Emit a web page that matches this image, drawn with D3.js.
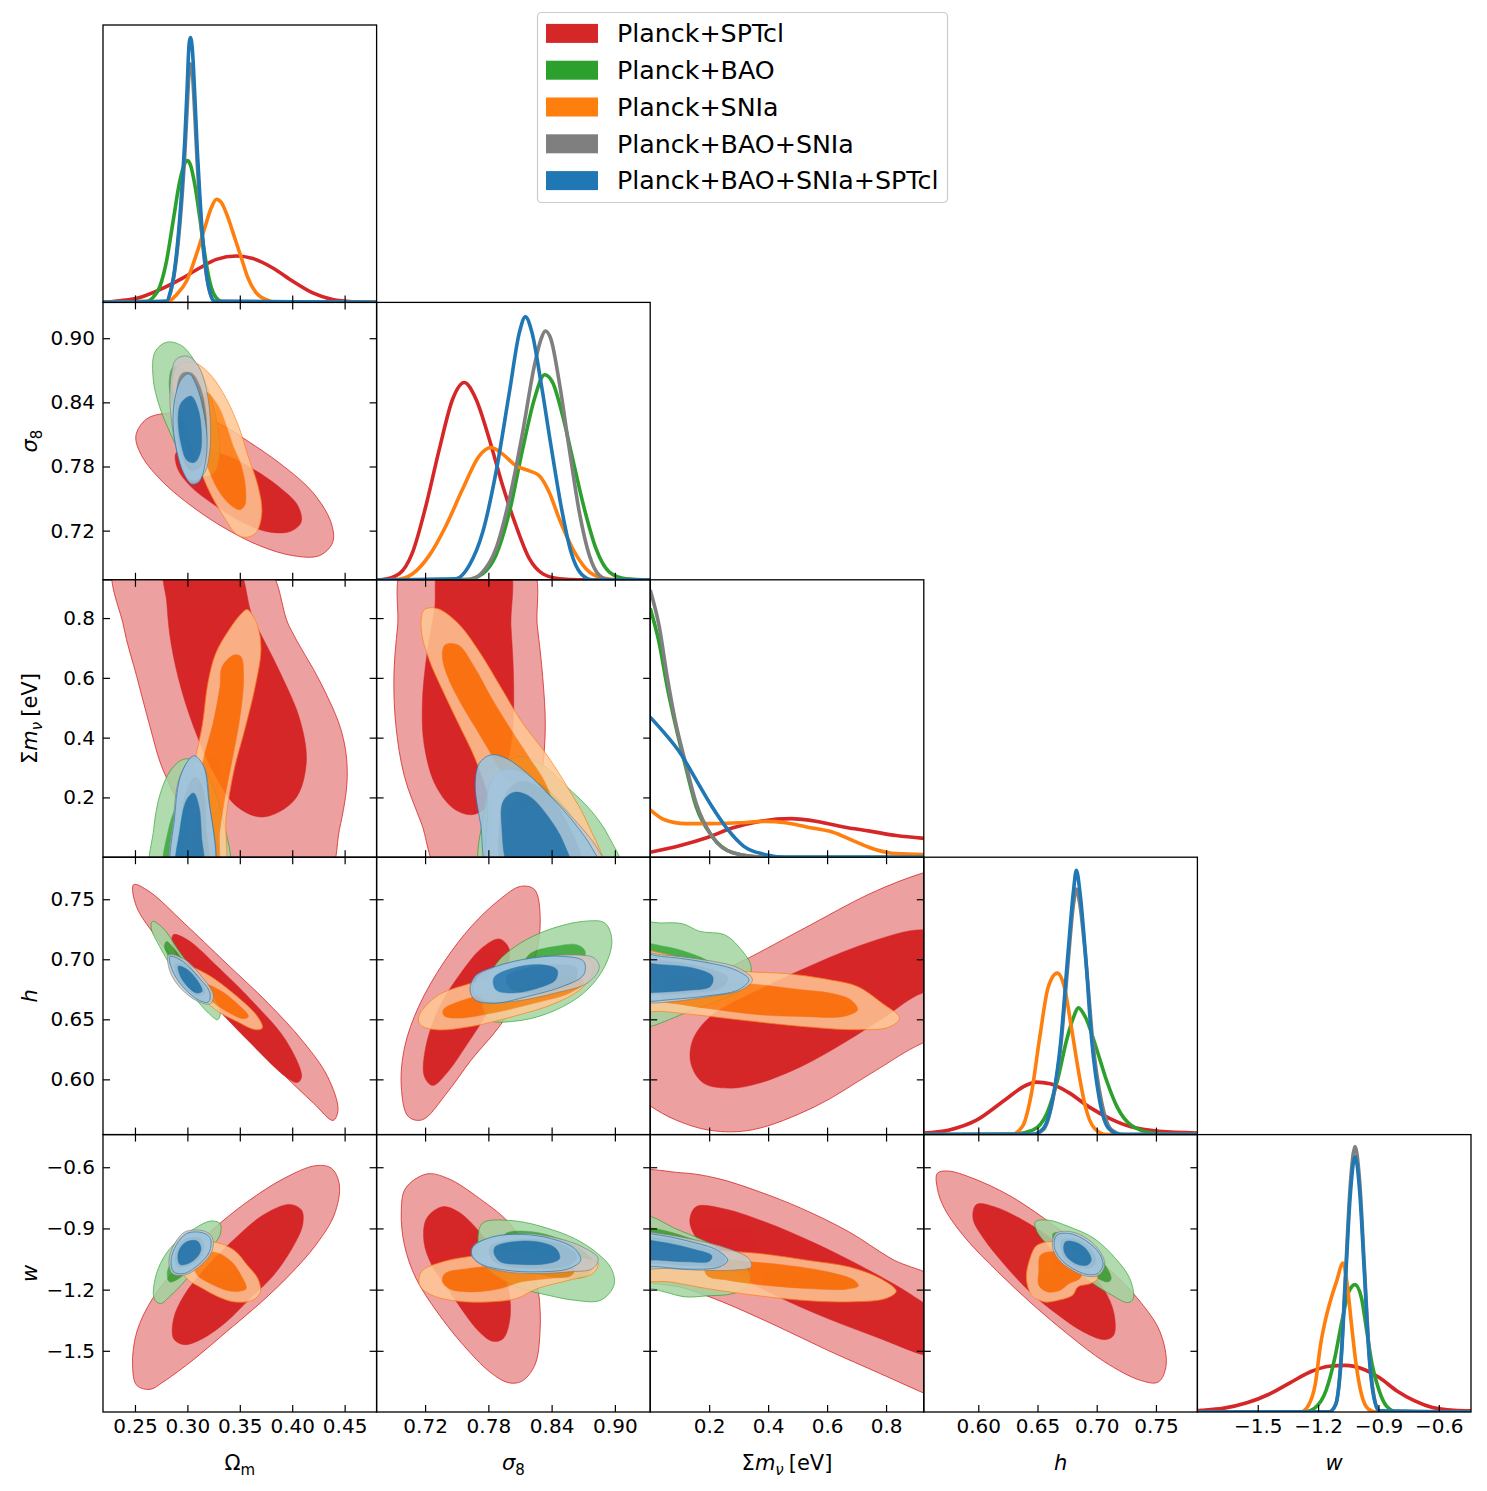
<!DOCTYPE html>
<html>
<head>
<meta charset="utf-8">
<script src="https://cdn.jsdelivr.net/npm/d3@7"></script>
<style>
  body { margin: 0; background: #fff; }
  text { font-family: "DejaVu Sans", sans-serif; fill: #000; }
</style>
</head>
<body>
<svg id="chart" width="1487" height="1491"></svg>
<script>
// series, in drawing order
const seriesNames = ['Planck+SPTcl', 'Planck+BAO', 'Planck+SNIa', 'Planck+BAO+SNIa', 'Planck+BAO+SNIa+SPTcl'];
const seriesColors = ['#d62728', '#2ca02c', '#ff7f0e', '#7f7f7f', '#1f77b4'];

// parameters (rows / columns of the triangle)
const params = ['Om', 's8', 'mnu', 'h', 'w'];
const domains = {
  Om: [0.2195, 0.4805],
  s8: [0.674, 0.9335],
  mnu: [0, 0.928],
  h: [0.554, 0.785],
  w: [-1.80, -0.44]
};
const tickValues = {
  Om: [0.25, 0.30, 0.35, 0.40, 0.45],
  s8: [0.72, 0.78, 0.84, 0.90],
  mnu: [0.2, 0.4, 0.6, 0.8],
  h: [0.60, 0.65, 0.70, 0.75],
  w: [-1.5, -1.2, -0.9, -0.6]
};
const tickDecimals = { Om: 2, s8: 2, mnu: 1, h: 2, w: 1 };

// 1D marginals: [value, density (fraction of panel height)] per series
const d_Om = [
  [[0.2195,0],[0.2357,0.006],[0.2547,0.018],[0.2738,0.046],[0.2928,0.082],[0.3118,0.124],[0.3277,0.155],[0.3467,0.167],[0.3625,0.158],[0.3815,0.124],[0.4006,0.076],[0.4196,0.034],[0.4386,0.010],[0.4576,0.002],[0.4805,0]],
  [[0.2195,0],[0.2611,0.004],[0.2674,0.018],[0.2738,0.058],[0.2801,0.149],[0.2864,0.293],[0.2928,0.438],[0.2975,0.501],[0.2998,0.511],[0.3029,0.496],[0.3070,0.426],[0.3118,0.306],[0.3166,0.173],[0.3213,0.076],[0.3277,0.016],[0.3356,0],[0.4805,0]],
  [[0.2195,0],[0.2817,0.004],[0.2896,0.028],[0.2991,0.076],[0.3086,0.173],[0.3166,0.269],[0.3229,0.342],[0.3277,0.372],[0.3324,0.360],[0.3387,0.306],[0.3451,0.233],[0.3514,0.161],[0.3578,0.088],[0.3657,0.034],[0.3752,0.010],[0.3847,0],[0.4805,0]],
  [[0.2195,0],[0.2801,0.004],[0.2839,0.036],[0.2871,0.092],[0.2902,0.180],[0.2928,0.280],[0.2953,0.400],[0.2975,0.530],[0.2998,0.700],[0.3017,0.835],[0.3029,0.860],[0.3048,0.822],[0.3070,0.680],[0.3093,0.505],[0.3118,0.355],[0.3143,0.225],[0.3175,0.115],[0.3213,0.038],[0.3261,0.004],[0.4805,0]],
  [[0.2195,0],[0.2801,0.004],[0.2839,0.040],[0.2871,0.100],[0.2902,0.197],[0.2928,0.306],[0.2953,0.438],[0.2975,0.583],[0.2998,0.777],[0.3017,0.934],[0.3029,0.955],[0.3048,0.909],[0.3070,0.752],[0.3093,0.559],[0.3118,0.390],[0.3143,0.245],[0.3175,0.124],[0.3213,0.040],[0.3261,0.004],[0.4805,0]]
];
const d_s8 = [
  [[0.674,0],[0.6797,0.001],[0.6955,0.022],[0.7082,0.100],[0.7208,0.267],[0.7335,0.471],[0.7461,0.651],[0.7572,0.711],[0.7683,0.651],[0.7809,0.507],[0.7936,0.339],[0.8062,0.195],[0.8189,0.076],[0.8315,0.022],[0.8473,0.004],[0.8663,0],[0.9335,0]],
  [[0.674,0],[0.7588,0.001],[0.7746,0.022],[0.7872,0.088],[0.7999,0.243],[0.8125,0.471],[0.8236,0.651],[0.8334,0.739],[0.8410,0.711],[0.8505,0.591],[0.8600,0.435],[0.8711,0.255],[0.8821,0.112],[0.8948,0.028],[0.9106,0.004],[0.9335,0]],
  [[0.674,0],[0.6923,0.001],[0.7082,0.022],[0.7240,0.088],[0.7398,0.195],[0.7556,0.327],[0.7714,0.447],[0.7825,0.477],[0.7936,0.453],[0.8062,0.411],[0.8189,0.393],[0.8283,0.375],[0.8378,0.315],[0.8473,0.219],[0.8600,0.112],[0.8726,0.040],[0.8884,0.006],[0.9043,0],[0.9335,0]],
  [[0.674,0],[0.7619,0.001],[0.7746,0.028],[0.7872,0.112],[0.7999,0.291],[0.8125,0.531],[0.8236,0.771],[0.8299,0.867],[0.8340,0.897],[0.8394,0.867],[0.8473,0.711],[0.8568,0.471],[0.8663,0.243],[0.8758,0.088],[0.8853,0.016],[0.8948,0],[0.9335,0]],
  [[0.674,0],[0.7493,0.004],[0.7619,0.052],[0.7746,0.171],[0.7872,0.387],[0.7999,0.675],[0.8094,0.891],[0.8151,0.948],[0.8214,0.891],[0.8299,0.711],[0.8394,0.483],[0.8489,0.267],[0.8584,0.100],[0.8679,0.022],[0.8790,0],[0.9335,0]]
];
const d_mnu = [
  [[0,0.018],[0.1021,0.042],[0.1915,0.070],[0.2808,0.106],[0.3701,0.129],[0.4773,0.139],[0.5666,0.129],[0.6559,0.109],[0.7452,0.094],[0.8345,0.078],[0.928,0.068]],
  [[0,0.897],[0.0307,0.771],[0.0575,0.615],[0.0843,0.483],[0.1200,0.327],[0.1557,0.183],[0.2093,0.076],[0.2808,0.016],[0.3880,0],[0.928,0]],
  [[0,0.171],[0.0486,0.135],[0.1200,0.121],[0.2093,0.121],[0.2987,0.124],[0.3880,0.129],[0.4594,0.124],[0.5309,0.109],[0.6202,0.090],[0.6916,0.058],[0.7631,0.028],[0.8345,0.013],[0.928,0.010]],
  [[0,0.963],[0.0307,0.831],[0.0575,0.651],[0.0843,0.495],[0.1200,0.339],[0.1557,0.195],[0.2093,0.076],[0.2808,0.016],[0.3880,0],[0.928,0]],
  [[0,0.505],[0.0486,0.447],[0.1021,0.375],[0.1557,0.279],[0.2093,0.183],[0.2629,0.100],[0.3165,0.040],[0.3880,0.010],[0.4594,0],[0.928,0]]
];
const d_h = [
  [[0.554,0.006],[0.5747,0.016],[0.5985,0.052],[0.6222,0.124],[0.6400,0.177],[0.6489,0.189],[0.6608,0.183],[0.6757,0.153],[0.6934,0.100],[0.7112,0.058],[0.7290,0.028],[0.7528,0.012],[0.785,0.006]],
  [[0.554,0],[0.6282,0.001],[0.6460,0.016],[0.6579,0.076],[0.6668,0.195],[0.6745,0.339],[0.6804,0.423],[0.6845,0.457],[0.6905,0.423],[0.6994,0.315],[0.7083,0.195],[0.7172,0.100],[0.7290,0.034],[0.7468,0.006],[0.7706,0],[0.785,0]],
  [[0.554,0],[0.6282,0.001],[0.6371,0.028],[0.6448,0.147],[0.6519,0.351],[0.6590,0.531],[0.6667,0.582],[0.6727,0.531],[0.6786,0.387],[0.6845,0.231],[0.6905,0.100],[0.6982,0.022],[0.7083,0],[0.785,0]],
  [[0.554,0],[0.6460,0.001],[0.6549,0.018],[0.6626,0.118],[0.6697,0.321],[0.6757,0.615],[0.6804,0.831],[0.6828,0.885],[0.6857,0.831],[0.6911,0.615],[0.6970,0.321],[0.7041,0.118],[0.7124,0.018],[0.7231,0],[0.785,0]],
  [[0.554,0],[0.6460,0.001],[0.6549,0.022],[0.6626,0.124],[0.6697,0.339],[0.6757,0.651],[0.6804,0.879],[0.6828,0.953],[0.6857,0.879],[0.6905,0.651],[0.6958,0.339],[0.7024,0.124],[0.7101,0.022],[0.7201,0],[0.785,0]]
];
const d_w = [
  [[-1.80,0.005],[-1.7795,0.006],[-1.6735,0.013],[-1.5498,0.034],[-1.4439,0.064],[-1.3378,0.106],[-1.2318,0.147],[-1.1435,0.165],[-1.0640,0.168],[-0.9845,0.157],[-0.8962,0.124],[-0.8079,0.076],[-0.7196,0.040],[-0.6313,0.016],[-0.5253,0.006],[-0.44,0.004]],
  [[-1.80,0],[-1.2672,0.001],[-1.2142,0.016],[-1.1612,0.076],[-1.1170,0.195],[-1.0817,0.327],[-1.0464,0.435],[-1.0164,0.459],[-0.9845,0.411],[-0.9580,0.291],[-0.9315,0.171],[-0.8962,0.076],[-0.8609,0.022],[-0.8079,0],[-0.44,0]],
  [[-1.80,0],[-1.2849,0.001],[-1.2496,0.022],[-1.2142,0.100],[-1.1877,0.243],[-1.1612,0.339],[-1.1347,0.411],[-1.1082,0.471],[-1.0764,0.537],[-1.0552,0.459],[-1.0340,0.315],[-1.0110,0.171],[-0.9845,0.064],[-0.9492,0.010],[-0.9139,0],[-0.44,0]],
  [[-1.80,0],[-1.1435,0.001],[-1.1117,0.030],[-1.0870,0.183],[-1.0640,0.495],[-1.0411,0.807],[-1.0164,0.957],[-0.9934,0.831],[-0.9704,0.531],[-0.9457,0.207],[-0.9227,0.058],[-0.8962,0.004],[-0.44,0]],
  [[-1.80,0],[-1.1435,0.001],[-1.1117,0.028],[-1.0870,0.171],[-1.0640,0.471],[-1.0411,0.771],[-1.0164,0.921],[-0.9934,0.795],[-0.9704,0.507],[-0.9457,0.195],[-0.9227,0.052],[-0.8962,0.004],[-0.44,0]]
];

// 2D contours: per series [outer (95%), inner (68%)], points as [x param, y param]
const c_s8_Om = [
  [[[0.2509,0.8089],[0.2611,0.8245],[0.2801,0.8298],[0.3055,0.8282],[0.3308,0.8198],[0.3594,0.8026],[0.3911,0.7808],[0.4196,0.7558],[0.4370,0.7278],[0.4386,0.7090],[0.4259,0.6966],[0.4006,0.6966],[0.3689,0.7059],[0.3371,0.7215],[0.3055,0.7418],[0.2769,0.7652],[0.2563,0.7902]],
   [[0.2896,0.7933],[0.3118,0.7964],[0.3372,0.7902],[0.3625,0.7777],[0.3879,0.7605],[0.4053,0.7434],[0.4085,0.7278],[0.3974,0.7190],[0.3752,0.7193],[0.3498,0.7293],[0.3245,0.7449],[0.3023,0.7621],[0.2902,0.7792]]],
  [[[0.2690,0.8869],[0.2801,0.8962],[0.2944,0.8931],[0.3086,0.8760],[0.3197,0.8526],[0.3283,0.8214],[0.3308,0.7933],[0.3261,0.7746],[0.3166,0.7708],[0.3055,0.7761],[0.2944,0.7902],[0.2833,0.8120],[0.2731,0.8370],[0.2674,0.8619]],
   [[0.2864,0.8728],[0.2991,0.8697],[0.3118,0.8526],[0.3197,0.8245],[0.3213,0.7995],[0.3150,0.7870],[0.3055,0.7902],[0.2960,0.8058],[0.2880,0.8307],[0.2826,0.8557]]],
  [[[0.2912,0.8744],[0.3055,0.8775],[0.3213,0.8666],[0.3372,0.8432],[0.3498,0.8151],[0.3578,0.7902],[0.3673,0.7621],[0.3711,0.7371],[0.3657,0.7184],[0.3562,0.7137],[0.3467,0.7168],[0.3340,0.7340],[0.3213,0.7558],[0.3118,0.7777],[0.3023,0.8026],[0.2928,0.8307],[0.2858,0.8557]],
   [[0.3181,0.8494],[0.3292,0.8370],[0.3372,0.8182],[0.3435,0.7995],[0.3514,0.7808],[0.3555,0.7590],[0.3546,0.7434],[0.3498,0.7396],[0.3419,0.7434],[0.3308,0.7558],[0.3213,0.7746],[0.3150,0.7933],[0.3118,0.8182],[0.3134,0.8432]]],
  [[[0.2896,0.8806],[0.3007,0.8831],[0.3102,0.8744],[0.3181,0.8526],[0.3219,0.8214],[0.3213,0.7933],[0.3166,0.7746],[0.3086,0.7668],[0.3007,0.7683],[0.2928,0.7839],[0.2864,0.8120],[0.2833,0.8432],[0.2849,0.8682]],
   [[0.2944,0.8666],[0.3039,0.8675],[0.3118,0.8557],[0.3175,0.8307],[0.3181,0.8026],[0.3134,0.7808],[0.3039,0.7761],[0.2960,0.7870],[0.2902,0.8120],[0.2890,0.8432]]],
  [[[0.2944,0.8619],[0.3017,0.8666],[0.3086,0.8557],[0.3150,0.8338],[0.3188,0.8058],[0.3166,0.7808],[0.3112,0.7658],[0.3039,0.7636],[0.2960,0.7746],[0.2902,0.7933],[0.2864,0.8182],[0.2880,0.8432]],
   [[0.2975,0.8432],[0.3039,0.8457],[0.3102,0.8338],[0.3134,0.8120],[0.3124,0.7933],[0.3071,0.7839],[0.2998,0.7855],[0.2944,0.7995],[0.2912,0.8214],[0.2928,0.8370]]]
];
const c_mnu_Om = [
  [[[0.2317,0.9825],[0.3722,0.9825],[0.3973,0.7711],[0.4274,0.5818],[0.4475,0.4149],[0.4525,0.2702],[0.4450,0.0921],[0.4325,-0.0637],[0.3346,-0.0637],[0.3195,0.0254],[0.3020,0.1144],[0.2869,0.2146],[0.2743,0.3147],[0.2643,0.4372],[0.2517,0.6041],[0.2392,0.7711]],
   [[0.2793,0.9825],[0.3446,0.9825],[0.3622,0.8044],[0.3873,0.6264],[0.4074,0.4594],[0.4134,0.3147],[0.4023,0.1923],[0.3722,0.1344],[0.3471,0.1700],[0.3270,0.2702],[0.3095,0.4038],[0.2944,0.5596],[0.2844,0.7154],[0.2804,0.8490]]],
  [[[0.2668,-0.0637],[0.2678,0.0921],[0.2743,0.2146],[0.2844,0.2925],[0.2969,0.3281],[0.3120,0.3147],[0.3245,0.2368],[0.3331,0.1367],[0.3381,-0.0637]],
   [[0.2793,-0.0637],[0.2819,0.0921],[0.2919,0.1812],[0.3020,0.2034],[0.3145,0.1589],[0.3195,0.0476],[0.3220,-0.0637]]],
  [[[0.3572,0.8289],[0.3672,0.7711],[0.3702,0.6931],[0.3647,0.5707],[0.3547,0.4260],[0.3446,0.2925],[0.3371,0.1367],[0.3331,-0.0637],[0.2994,-0.0637],[0.3020,0.1589],[0.3070,0.3147],[0.3145,0.4483],[0.3195,0.5818],[0.3270,0.6820],[0.3396,0.7599],[0.3511,0.8133]],
   [[0.3446,0.6764],[0.3511,0.6709],[0.3536,0.6041],[0.3511,0.4928],[0.3446,0.3592],[0.3371,0.2257],[0.3311,0.0921],[0.3270,-0.0637],[0.3070,-0.0637],[0.3095,0.1589],[0.3145,0.3147],[0.3245,0.4483],[0.3311,0.5707],[0.3331,0.6375]]],
  [[[0.2859,-0.0637],[0.2869,0.1367],[0.2929,0.2702],[0.3045,0.3314],[0.3160,0.2980],[0.3210,0.1812],[0.3240,-0.0637]],
   [[0.2919,-0.0637],[0.2944,0.1367],[0.3009,0.2368],[0.3080,0.2680],[0.3150,0.2257],[0.3180,0.0921],[0.3190,-0.0637]]],
  [[[0.2869,-0.0637],[0.2879,0.1367],[0.2944,0.2813],[0.3060,0.3392],[0.3150,0.3092],[0.3200,0.2034],[0.3230,-0.0637]],
   [[0.2904,-0.0637],[0.2929,0.0921],[0.2994,0.1923],[0.3060,0.2146],[0.3110,0.1700],[0.3135,0.0699],[0.3145,-0.0637]]]
];
const c_mnu_s8 = [
  [[[0.7014,0.9825],[0.8190,0.9825],[0.8265,0.7711],[0.8315,0.6041],[0.8340,0.4372],[0.8305,0.2702],[0.8215,0.1144],[0.8115,-0.0637],[0.7364,-0.0637],[0.7164,0.1144],[0.7004,0.2702],[0.6924,0.4372],[0.6904,0.6041],[0.6939,0.7711]],
   [[0.7354,0.9825],[0.7975,0.9825],[0.8015,0.7711],[0.8040,0.5818],[0.8025,0.4038],[0.7940,0.2702],[0.7790,0.1700],[0.7640,0.1422],[0.7464,0.1645],[0.7289,0.2479],[0.7189,0.3815],[0.7174,0.5151],[0.7214,0.6709],[0.7289,0.8267]]],
  [[[0.7755,-0.0637],[0.7765,0.1589],[0.7840,0.2702],[0.7965,0.3203],[0.8115,0.3370],[0.8315,0.3092],[0.8541,0.2368],[0.8766,0.1589],[0.8941,0.0699],[0.9066,-0.0637]],
   [[0.7965,-0.0637],[0.7990,0.1367],[0.8115,0.2257],[0.8265,0.2479],[0.8465,0.1923],[0.8665,0.0921],[0.8816,-0.0637]]],
  [[[0.7189,0.8267],[0.7314,0.8323],[0.7514,0.7822],[0.7715,0.6876],[0.7915,0.5707],[0.8115,0.4539],[0.8365,0.3370],[0.8565,0.2257],[0.8740,0.1144],[0.8891,-0.0637],[0.7965,-0.0637],[0.7790,0.2146],[0.7665,0.3370],[0.7514,0.4483],[0.7364,0.5596],[0.7239,0.6598],[0.7164,0.7599]],
   [[0.7389,0.7098],[0.7514,0.7098],[0.7665,0.6375],[0.7840,0.5262],[0.8015,0.4260],[0.8190,0.3314],[0.8340,0.2479],[0.8390,0.1812],[0.8215,0.1700],[0.8015,0.2368],[0.7840,0.3370],[0.7690,0.4260],[0.7539,0.5151],[0.7414,0.6041],[0.7364,0.6709]]],
  [[[0.7840,-0.0637],[0.7790,0.1367],[0.7815,0.2479],[0.7940,0.2925],[0.8115,0.2869],[0.8365,0.2146],[0.8616,0.1255],[0.8841,0.0254],[0.8941,-0.0637]],
   [[0.7965,-0.0637],[0.7915,0.1367],[0.7990,0.2257],[0.8115,0.2535],[0.8315,0.2257],[0.8515,0.1367],[0.8691,-0.0637]]],
  [[[0.7840,-0.0637],[0.7725,0.1144],[0.7675,0.2479],[0.7715,0.3147],[0.7825,0.3425],[0.7965,0.3314],[0.8165,0.2813],[0.8390,0.2034],[0.8616,0.1144],[0.8791,0.0254],[0.8891,-0.0637]],
   [[0.8040,-0.0637],[0.7925,0.1144],[0.7940,0.1867],[0.8040,0.2168],[0.8190,0.2034],[0.8365,0.1367],[0.8515,0.0476],[0.8591,-0.0637]]]
];
const c_h_Om = [
  [[[0.2487,0.7621],[0.2634,0.7566],[0.2968,0.7302],[0.3368,0.6969],[0.3769,0.6635],[0.4103,0.6316],[0.4337,0.6024],[0.4437,0.5747],[0.4390,0.5658],[0.4203,0.5802],[0.3869,0.6080],[0.3469,0.6427],[0.3068,0.6788],[0.2734,0.7149],[0.2513,0.7441]],
   [[0.2867,0.7205],[0.3001,0.7163],[0.3302,0.6927],[0.3636,0.6635],[0.3936,0.6330],[0.4090,0.6024],[0.4050,0.5974],[0.3936,0.6024],[0.3602,0.6302],[0.3268,0.6608],[0.3001,0.6885],[0.2854,0.7135]]],
  [[[0.2667,0.7316],[0.2767,0.7260],[0.2934,0.7052],[0.3101,0.6858],[0.3248,0.6691],[0.3315,0.6552],[0.3288,0.6497],[0.3201,0.6552],[0.3034,0.6719],[0.2867,0.6913],[0.2734,0.7108],[0.2654,0.7260]],
   [[0.2801,0.7149],[0.2867,0.7094],[0.3001,0.6941],[0.3135,0.6774],[0.3181,0.6663],[0.3101,0.6663],[0.2968,0.6802],[0.2834,0.6996],[0.2781,0.7108]]],
  [[[0.3034,0.6927],[0.3168,0.6885],[0.3435,0.6719],[0.3669,0.6524],[0.3716,0.6427],[0.3649,0.6413],[0.3469,0.6483],[0.3268,0.6580],[0.3101,0.6719],[0.3001,0.6844]],
   [[0.3168,0.6788],[0.3302,0.6746],[0.3469,0.6635],[0.3582,0.6524],[0.3536,0.6505],[0.3402,0.6552],[0.3255,0.6635],[0.3155,0.6719]]],
  [[[0.2821,0.7038],[0.2968,0.7002],[0.3135,0.6858],[0.3248,0.6705],[0.3221,0.6630],[0.3101,0.6649],[0.2934,0.6760],[0.2834,0.6899]],
   [[0.2887,0.6963],[0.3001,0.6941],[0.3121,0.6830],[0.3168,0.6724],[0.3101,0.6696],[0.2981,0.6760],[0.2901,0.6858]]],
  [[[0.2834,0.7024],[0.2954,0.6983],[0.3101,0.6858],[0.3215,0.6719],[0.3201,0.6644],[0.3101,0.6663],[0.2954,0.6774],[0.2854,0.6913]],
   [[0.2914,0.6941],[0.3001,0.6913],[0.3101,0.6816],[0.3141,0.6733],[0.3088,0.6719],[0.3001,0.6774],[0.2934,0.6858]]]
];
const c_h_s8 = [
  [[[0.8105,0.7607],[0.8238,0.7580],[0.8292,0.7330],[0.8238,0.6996],[0.8105,0.6719],[0.7905,0.6441],[0.7639,0.6163],[0.7406,0.5886],[0.7173,0.5663],[0.7040,0.5691],[0.6974,0.5941],[0.7007,0.6274],[0.7140,0.6608],[0.7373,0.6969],[0.7639,0.7274],[0.7905,0.7496]],
   [[0.7905,0.7169],[0.7999,0.7080],[0.7939,0.6830],[0.7806,0.6580],[0.7606,0.6302],[0.7406,0.6052],[0.7273,0.5949],[0.7193,0.6024],[0.7207,0.6274],[0.7340,0.6608],[0.7539,0.6885],[0.7739,0.7094]]],
  [[[0.7905,0.6996],[0.8105,0.7135],[0.8371,0.7246],[0.8704,0.7316],[0.8904,0.7302],[0.8971,0.7163],[0.8904,0.6941],[0.8704,0.6719],[0.8371,0.6552],[0.8038,0.6483],[0.7806,0.6497],[0.7739,0.6663],[0.7806,0.6858]],
   [[0.8205,0.7052],[0.8438,0.7108],[0.8638,0.7121],[0.8718,0.7066],[0.8671,0.6941],[0.8505,0.6830],[0.8271,0.6774],[0.8138,0.6830],[0.8138,0.6969]]],
  [[[0.7140,0.6524],[0.7306,0.6691],[0.7639,0.6802],[0.8038,0.6899],[0.8438,0.6996],[0.8704,0.7024],[0.8804,0.6941],[0.8704,0.6774],[0.8438,0.6635],[0.8038,0.6524],[0.7639,0.6441],[0.7306,0.6413],[0.7153,0.6455]],
   [[0.7373,0.6580],[0.7573,0.6663],[0.7972,0.6746],[0.8371,0.6830],[0.8638,0.6858],[0.8704,0.6802],[0.8571,0.6719],[0.8238,0.6635],[0.7839,0.6552],[0.7506,0.6510],[0.7380,0.6530]]],
  [[[0.7706,0.6858],[0.7905,0.6941],[0.8238,0.7010],[0.8571,0.7038],[0.8804,0.7010],[0.8851,0.6927],[0.8738,0.6802],[0.8438,0.6719],[0.8038,0.6649],[0.7772,0.6649],[0.7653,0.6733]],
   [[0.7972,0.6858],[0.8171,0.6927],[0.8471,0.6955],[0.8638,0.6927],[0.8624,0.6830],[0.8438,0.6760],[0.8171,0.6719],[0.8005,0.6760]]],
  [[[0.7672,0.6858],[0.7872,0.6941],[0.8205,0.7010],[0.8505,0.7024],[0.8704,0.6983],[0.8704,0.6871],[0.8505,0.6774],[0.8171,0.6691],[0.7872,0.6635],[0.7672,0.6663],[0.7626,0.6746]],
   [[0.7852,0.6844],[0.8038,0.6927],[0.8305,0.6955],[0.8451,0.6913],[0.8438,0.6830],[0.8271,0.6760],[0.8038,0.6719],[0.7872,0.6746]]]
];
const c_h_mnu = [
  [[[-0.0334,0.6635],[0.2755,0.6941],[0.5131,0.7246],[0.7507,0.7552],[0.9242,0.7718],[1.1071,0.7829],[1.1071,0.6441],[0.9242,0.6302],[0.7507,0.6052],[0.5607,0.5775],[0.3468,0.5580],[0.2043,0.5575],[0.0855,0.5663],[0.0024,0.5775],[-0.0571,0.5886]],
   [[0.1448,0.6330],[0.2043,0.6524],[0.3468,0.6719],[0.5131,0.6913],[0.7032,0.7107],[0.8695,0.7232],[0.9242,0.7246],[1.1071,0.7246],[1.1071,0.6774],[0.9242,0.6719],[0.7983,0.6524],[0.6558,0.6302],[0.5131,0.6108],[0.3706,0.5969],[0.2755,0.5927],[0.1805,0.5969],[0.1377,0.6136]]],
  [[[-0.0571,0.7288],[0.0379,0.7302],[0.1092,0.7296],[0.1686,0.7232],[0.2517,0.7205],[0.2993,0.7107],[0.3420,0.6941],[0.3230,0.6774],[0.2398,0.6663],[0.1329,0.6566],[0.0024,0.6441],[-0.0571,0.6413]],
   [[-0.0571,0.7121],[0.0498,0.7107],[0.1329,0.7052],[0.2043,0.6969],[0.2280,0.6858],[0.1567,0.6788],[0.0379,0.6788],[-0.0571,0.6788]]],
  [[[-0.0571,0.7066],[0.0379,0.7052],[0.1805,0.6955],[0.3230,0.6899],[0.4656,0.6880],[0.6082,0.6830],[0.7032,0.6774],[0.7864,0.6635],[0.8458,0.6510],[0.8101,0.6435],[0.7032,0.6413],[0.5131,0.6441],[0.3468,0.6483],[0.1805,0.6530],[0.0379,0.6566],[-0.0571,0.6580]],
   [[0.0855,0.6844],[0.2280,0.6816],[0.3706,0.6788],[0.5131,0.6746],[0.6082,0.6719],[0.6795,0.6663],[0.7032,0.6580],[0.6558,0.6524],[0.5131,0.6524],[0.3706,0.6538],[0.2280,0.6580],[0.1092,0.6622],[0.0379,0.6663],[0.0498,0.6774]]],
  [[[-0.0571,0.7052],[0.0379,0.7038],[0.1805,0.6996],[0.2993,0.6927],[0.3468,0.6830],[0.3112,0.6746],[0.2043,0.6691],[0.0855,0.6649],[0.0024,0.6635],[-0.0571,0.6635]],
   [[-0.0571,0.6983],[0.0617,0.6983],[0.1924,0.6927],[0.2636,0.6844],[0.2398,0.6760],[0.1329,0.6719],[0.0142,0.6705],[-0.0571,0.6705]]],
  [[[-0.0571,0.7038],[0.0379,0.7024],[0.1686,0.6983],[0.2874,0.6913],[0.3349,0.6830],[0.2993,0.6746],[0.1805,0.6691],[0.0617,0.6663],[0.0024,0.6649],[-0.0571,0.6649]],
   [[-0.0571,0.6955],[0.0379,0.6955],[0.1448,0.6927],[0.2114,0.6858],[0.2043,0.6774],[0.1211,0.6741],[0.0142,0.6724],[-0.0571,0.6724]]]
];
const c_w_Om = [
  [[[0.4224,-0.5923],[0.4375,-0.6054],[0.4450,-0.6872],[0.4400,-0.8346],[0.4224,-0.9819],[0.3973,-1.1292],[0.3672,-1.2765],[0.3371,-1.4075],[0.3070,-1.5385],[0.2768,-1.6531],[0.2643,-1.6891],[0.2517,-1.6694],[0.2477,-1.5712],[0.2517,-1.4075],[0.2668,-1.2438],[0.2919,-1.0801],[0.3220,-0.9164],[0.3572,-0.7691],[0.3923,-0.6545]],
   [[0.3973,-0.7822],[0.4089,-0.8100],[0.4099,-0.8837],[0.3998,-0.9983],[0.3823,-1.1292],[0.3597,-1.2438],[0.3371,-1.3584],[0.3145,-1.4403],[0.2969,-1.4697],[0.2869,-1.4403],[0.2869,-1.3420],[0.2969,-1.2274],[0.3170,-1.0965],[0.3421,-0.9655],[0.3722,-0.8346]]],
  [[[0.3220,-0.8640],[0.3311,-0.8755],[0.3311,-0.9328],[0.3220,-0.9983],[0.3095,-1.0801],[0.2969,-1.1620],[0.2844,-1.2274],[0.2743,-1.2684],[0.2683,-1.2438],[0.2693,-1.1456],[0.2768,-1.0474],[0.2894,-0.9655],[0.3070,-0.9000]],
   [[0.3120,-0.9328],[0.3195,-0.9492],[0.3170,-1.0146],[0.3045,-1.0801],[0.2919,-1.1456],[0.2829,-1.1620],[0.2809,-1.1129],[0.2869,-1.0474],[0.2994,-0.9737]]],
  [[[0.3045,-0.9737],[0.3245,-0.9655],[0.3446,-1.0064],[0.3572,-1.0801],[0.3672,-1.1456],[0.3697,-1.2111],[0.3622,-1.2520],[0.3446,-1.2602],[0.3296,-1.2356],[0.3145,-1.1947],[0.2994,-1.1456],[0.2919,-1.0801],[0.2944,-1.0146]],
   [[0.3095,-1.0310],[0.3270,-1.0179],[0.3421,-1.0637],[0.3511,-1.1292],[0.3561,-1.1947],[0.3496,-1.2078],[0.3371,-1.2029],[0.3220,-1.1702],[0.3095,-1.1292],[0.3060,-1.0801]]],
  [[[0.2979,-0.9164],[0.3160,-0.9131],[0.3240,-0.9459],[0.3230,-1.0179],[0.3130,-1.0801],[0.2969,-1.1292],[0.2854,-1.1210],[0.2824,-1.0555],[0.2879,-0.9737]],
   [[0.2984,-0.9524],[0.3120,-0.9492],[0.3160,-0.9901],[0.3120,-1.0441],[0.3009,-1.0834],[0.2909,-1.0883],[0.2884,-1.0441],[0.2909,-0.9901]]],
  [[[0.2994,-0.9246],[0.3145,-0.9214],[0.3220,-0.9492],[0.3210,-1.0146],[0.3120,-1.0719],[0.2969,-1.1210],[0.2869,-1.1129],[0.2844,-1.0555],[0.2894,-0.9819]],
   [[0.2994,-0.9655],[0.3095,-0.9622],[0.3130,-0.9983],[0.3095,-1.0392],[0.3009,-1.0719],[0.2929,-1.0768],[0.2909,-1.0392],[0.2929,-0.9983]]]
];
const c_w_s8 = [
  [[[0.7214,-0.6332],[0.7414,-0.6545],[0.7715,-0.7527],[0.8015,-0.8837],[0.8190,-1.0474],[0.8275,-1.2111],[0.8290,-1.4075],[0.8240,-1.5712],[0.8115,-1.6498],[0.7990,-1.6563],[0.7815,-1.6040],[0.7564,-1.4730],[0.7314,-1.3093],[0.7114,-1.1456],[0.7004,-0.9819],[0.6974,-0.8182],[0.7014,-0.7036]],
   [[0.7364,-0.7936],[0.7514,-0.8182],[0.7715,-0.9164],[0.7890,-1.0474],[0.7990,-1.1947],[0.8005,-1.3420],[0.7940,-1.4403],[0.7840,-1.4533],[0.7715,-1.4075],[0.7564,-1.3093],[0.7414,-1.1947],[0.7264,-1.0801],[0.7189,-0.9655],[0.7214,-0.8509]]],
  [[[0.7765,-0.8673],[0.8065,-0.8640],[0.8365,-0.9000],[0.8616,-0.9492],[0.8816,-1.0146],[0.8966,-1.0965],[0.8991,-1.1783],[0.8866,-1.2520],[0.8616,-1.2520],[0.8365,-1.2274],[0.8115,-1.1947],[0.7915,-1.1456],[0.7765,-1.0801],[0.7705,-0.9819],[0.7715,-0.9000]],
   [[0.7965,-0.9246],[0.8215,-0.9164],[0.8465,-0.9492],[0.8666,-0.9983],[0.8791,-1.0637],[0.8741,-1.1292],[0.8566,-1.1456],[0.8315,-1.1292],[0.8065,-1.0965],[0.7940,-1.0310],[0.7925,-0.9655]]],
  [[[0.7164,-1.1129],[0.7364,-1.0637],[0.7715,-1.0310],[0.8115,-1.0146],[0.8465,-1.0392],[0.8716,-1.0474],[0.8841,-1.0719],[0.8791,-1.1210],[0.8566,-1.1538],[0.8265,-1.1947],[0.8065,-1.2438],[0.7815,-1.2602],[0.7514,-1.2569],[0.7264,-1.2274],[0.7149,-1.1783]],
   [[0.7389,-1.1210],[0.7614,-1.0965],[0.7915,-1.0801],[0.8215,-1.0719],[0.8465,-1.0801],[0.8616,-1.0965],[0.8591,-1.1292],[0.8365,-1.1456],[0.8115,-1.1620],[0.7915,-1.1947],[0.7664,-1.2111],[0.7439,-1.1980],[0.7364,-1.1620]]],
  [[[0.7664,-0.9819],[0.7865,-0.9410],[0.8165,-0.9246],[0.8465,-0.9492],[0.8691,-0.9901],[0.8841,-1.0474],[0.8791,-1.0965],[0.8566,-1.1129],[0.8265,-1.1210],[0.7965,-1.1129],[0.7739,-1.0801],[0.7639,-1.0310]],
   [[0.7815,-0.9901],[0.8040,-0.9573],[0.8315,-0.9573],[0.8541,-0.9901],[0.8641,-1.0392],[0.8566,-1.0801],[0.8315,-1.0965],[0.8015,-1.0883],[0.7840,-1.0555]]],
  [[[0.7654,-0.9901],[0.7840,-0.9410],[0.8115,-0.9295],[0.8390,-0.9492],[0.8616,-0.9983],[0.8676,-1.0555],[0.8566,-1.0965],[0.8265,-1.1129],[0.7965,-1.1047],[0.7739,-1.0768],[0.7644,-1.0310]],
   [[0.7865,-0.9901],[0.8040,-0.9655],[0.8265,-0.9655],[0.8440,-0.9983],[0.8476,-1.0474],[0.8365,-1.0719],[0.8115,-1.0768],[0.7915,-1.0637],[0.7855,-1.0228]]]
];
const c_w_mnu = [
  [[[-0.0765,-0.6381],[0.1021,-0.6267],[0.2272,-0.6545],[0.3701,-0.7200],[0.5130,-0.8018],[0.6737,-0.9164],[0.8167,-1.0474],[1.0310,-1.2111],[1.0310,-1.7677],[0.9328,-1.7104],[0.7809,-1.6121],[0.6023,-1.4976],[0.4237,-1.3748],[0.2450,-1.2602],[0.1200,-1.1947],[-0.0765,-1.1129]],
   [[0.1557,-0.7936],[0.2450,-0.8018],[0.3879,-0.8673],[0.5487,-0.9655],[0.7095,-1.0801],[0.8524,-1.1947],[0.9417,-1.2765],[1.0310,-1.3420],[1.0310,-1.5385],[0.9328,-1.5221],[0.7809,-1.4403],[0.6023,-1.3420],[0.4237,-1.2274],[0.2808,-1.1129],[0.1736,-0.9819],[0.1343,-0.8673]]],
  [[[-0.0765,-0.8264],[0.0039,-0.8427],[0.0842,-0.9000],[0.1914,-0.9655],[0.2808,-1.0474],[0.3344,-1.1129],[0.3344,-1.1783],[0.2808,-1.2193],[0.1914,-1.2307],[0.1200,-1.2356],[0.0485,-1.2111],[0.0039,-1.1947],[-0.0765,-1.1783]],
   [[-0.0765,-0.8918],[0.0128,-0.9000],[0.1021,-0.9328],[0.1914,-0.9901],[0.2093,-1.0474],[0.1378,-1.0801],[0.0307,-1.0965],[-0.0765,-1.0965]]],
  [[[-0.0765,-0.9737],[0.0664,-0.9901],[0.2093,-1.0064],[0.3701,-1.0228],[0.5309,-1.0555],[0.6737,-1.0883],[0.7809,-1.1456],[0.8345,-1.2078],[0.7988,-1.2438],[0.6737,-1.2602],[0.5130,-1.2520],[0.3522,-1.2274],[0.1914,-1.1947],[0.0664,-1.1620],[-0.0765,-1.1423]],
   [[0.1914,-1.0556],[0.3344,-1.0637],[0.4594,-1.0801],[0.6023,-1.1129],[0.6916,-1.1538],[0.7060,-1.1816],[0.6648,-1.1980],[0.5309,-1.1947],[0.3879,-1.1783],[0.2629,-1.1538],[0.1914,-1.1292]]],
  [[[-0.0765,-0.9164],[0.0307,-0.9246],[0.1557,-0.9573],[0.2629,-0.9983],[0.3344,-1.0474],[0.3433,-1.0883],[0.2808,-1.1047],[0.1736,-1.1047],[0.0664,-1.0965],[-0.0765,-1.0801]],
   [[-0.0765,-0.9459],[0.0485,-0.9524],[0.1736,-0.9901],[0.2540,-1.0392],[0.2450,-1.0768],[0.1378,-1.0834],[0.0307,-1.0719],[-0.0765,-1.0605]]],
  [[[-0.0765,-0.9246],[0.0307,-0.9328],[0.1378,-0.9655],[0.2272,-1.0064],[0.2629,-1.0555],[0.2361,-1.0883],[0.1378,-1.0998],[0.0307,-1.0883],[-0.0765,-1.0719]],
   [[-0.0765,-0.9573],[0.0307,-0.9655],[0.1378,-0.9983],[0.2093,-1.0343],[0.2004,-1.0605],[0.1200,-1.0637],[0.0307,-1.0555],[-0.0765,-1.0441]]]
];
const c_w_h = [
  [[[0.5654,-0.6299],[0.5744,-0.6185],[0.5955,-0.6545],[0.6256,-0.7363],[0.6557,-0.8509],[0.6858,-0.9819],[0.7128,-1.1129],[0.7369,-1.2602],[0.7535,-1.4075],[0.7586,-1.5712],[0.7520,-1.6531],[0.7369,-1.6449],[0.7068,-1.5548],[0.6767,-1.4239],[0.6466,-1.2765],[0.6165,-1.1129],[0.5894,-0.9492],[0.5714,-0.8018],[0.5654,-0.7036]],
   [[0.5985,-0.7822],[0.6135,-0.7936],[0.6376,-0.8591],[0.6617,-0.9492],[0.6858,-1.0637],[0.7038,-1.1783],[0.7143,-1.3093],[0.7143,-1.4239],[0.7068,-1.4452],[0.6888,-1.4075],[0.6677,-1.3257],[0.6436,-1.2111],[0.6225,-1.0801],[0.6045,-0.9492],[0.5955,-0.8509]]],
  [[[0.6481,-0.8673],[0.6587,-0.8591],[0.6767,-0.8918],[0.6978,-0.9492],[0.7159,-1.0474],[0.7279,-1.1456],[0.7309,-1.2438],[0.7264,-1.2635],[0.7128,-1.2274],[0.6948,-1.1620],[0.6767,-1.0801],[0.6587,-0.9819],[0.6496,-0.9164]],
   [[0.6632,-0.9246],[0.6767,-0.9328],[0.6918,-0.9819],[0.7053,-1.0637],[0.7122,-1.1456],[0.7098,-1.1620],[0.7008,-1.1456],[0.6888,-1.0965],[0.6737,-1.0228],[0.6641,-0.9655]]],
  [[[0.6496,-0.9819],[0.6647,-0.9655],[0.6797,-0.9983],[0.6948,-1.0801],[0.7008,-1.1456],[0.6948,-1.1702],[0.6842,-1.1865],[0.6797,-1.2274],[0.6677,-1.2520],[0.6557,-1.2602],[0.6451,-1.2274],[0.6406,-1.1456],[0.6436,-1.0474]],
   [[0.6526,-1.0310],[0.6647,-1.0146],[0.6767,-1.0474],[0.6872,-1.1129],[0.6857,-1.1456],[0.6767,-1.1702],[0.6692,-1.2029],[0.6587,-1.2111],[0.6511,-1.1783],[0.6511,-1.1129]]],
  [[[0.6653,-0.9246],[0.6782,-0.9164],[0.6924,-0.9524],[0.7038,-1.0228],[0.7068,-1.0834],[0.7017,-1.1292],[0.6912,-1.1341],[0.6782,-1.1014],[0.6677,-1.0523],[0.6626,-0.9901]],
   [[0.6707,-0.9573],[0.6842,-0.9573],[0.6948,-1.0015],[0.6993,-1.0605],[0.6948,-1.0932],[0.6842,-1.0883],[0.6743,-1.0555],[0.6701,-1.0064]]],
  [[[0.6662,-0.9328],[0.6767,-0.9246],[0.6902,-0.9573],[0.7023,-1.0228],[0.7053,-1.0801],[0.7008,-1.1210],[0.6918,-1.1260],[0.6797,-1.0965],[0.6692,-1.0474],[0.6641,-0.9901]],
   [[0.6737,-0.9655],[0.6827,-0.9688],[0.6918,-1.0064],[0.6954,-1.0555],[0.6918,-1.0801],[0.6842,-1.0768],[0.6761,-1.0474],[0.6722,-1.0064]]]
];

const marginals = [d_Om, d_s8, d_mnu, d_h, d_w];
const panels2D = [
  [1, 0, c_s8_Om], [2, 0, c_mnu_Om], [2, 1, c_mnu_s8],
  [3, 0, c_h_Om], [3, 1, c_h_s8], [3, 2, c_h_mnu],
  [4, 0, c_w_Om], [4, 1, c_w_s8], [4, 2, c_w_mnu], [4, 3, c_w_h]
];

// layout
const gridLeft = 103, gridTop = 25, pw = 273.6, ph = 277.4;
const nPar = params.length;
const tickLen = 7;
const tickFont = '20px';

const svg = d3.select('#chart');
const defs = svg.append('defs');

const xScale = i => d3.scaleLinear().domain(domains[params[i]]).range([gridLeft + i * pw, gridLeft + (i + 1) * pw]);
const yScale = j => d3.scaleLinear().domain(domains[params[j]]).range([gridTop + (j + 1) * ph, gridTop + j * ph]);

const fmt = p => v => v.toFixed(tickDecimals[p]).replace('-', '\u2212');

function clipFor(row, col) {
  const id = `clip-${row}-${col}`;
  defs.append('clipPath').attr('id', id)
    .append('rect')
    .attr('x', gridLeft + col * pw).attr('y', gridTop + row * ph)
    .attr('width', pw).attr('height', ph);
  return `url(#${id})`;
}

function styleAxis(g) {
  g.select('.domain').remove();
  g.selectAll('.tick line').attr('stroke', '#000').attr('stroke-width', 1.2);
  g.selectAll('.tick text')
    .attr('font-size', tickFont)
    .attr('font-family', '"DejaVu Sans", sans-serif')
    .attr('fill', '#000');
}

function drawAxes(row, col, x, y, is2D) {
  const p = params[col];
  const bottomAx = svg.append('g')
    .attr('transform', `translate(0,${gridTop + (row + 1) * ph})`)
    .call(d3.axisBottom(x).tickValues(tickValues[p]).tickSize(-tickLen).tickPadding(7)
      .tickFormat(row === nPar - 1 ? fmt(p) : ''));
  styleAxis(bottomAx);
  if (!is2D) return;
  const topAx = svg.append('g')
    .attr('transform', `translate(0,${gridTop + row * ph})`)
    .call(d3.axisTop(x).tickValues(tickValues[p]).tickSize(-tickLen).tickFormat(''));
  styleAxis(topAx);
  const q = params[row];
  const leftAx = svg.append('g')
    .attr('transform', `translate(${gridLeft + col * pw},0)`)
    .call(d3.axisLeft(y).tickValues(tickValues[q]).tickSize(-tickLen).tickPadding(8)
      .tickFormat(col === 0 ? fmt(q) : ''));
  styleAxis(leftAx);
  const rightAx = svg.append('g')
    .attr('transform', `translate(${gridLeft + (col + 1) * pw},0)`)
    .call(d3.axisRight(y).tickValues(tickValues[q]).tickSize(-tickLen).tickFormat(''));
  styleAxis(rightAx);
}

function drawFrame(row, col) {
  svg.append('rect')
    .attr('x', gridLeft + col * pw).attr('y', gridTop + row * ph)
    .attr('width', pw).attr('height', ph)
    .attr('fill', 'none').attr('stroke', '#000').attr('stroke-width', 1.3);
}

// 2D panels
const contourLine = (x, y) => d3.line()
  .x(d => x(d[0])).y(d => y(d[1]))
  .curve(d3.curveCatmullRomClosed.alpha(0.5));

panels2D.forEach(([row, col, data]) => {
  const x = xScale(col), y = yScale(row);
  const g = svg.append('g').attr('clip-path', clipFor(row, col));
  const line = contourLine(x, y);
  data.forEach((levels, si) => {
    const color = seriesColors[si];
    const light = d3.interpolateRgb(color, '#ffffff')(0.56);
    const sg = g.append('g').attr('opacity', si === 0 ? 1 : 0.85);
    sg.append('path').attr('d', line(levels[0]))
      .attr('fill', light).attr('stroke', color).attr('stroke-width', 0.8);
    sg.append('path').attr('d', line(levels[1]))
      .attr('fill', color).attr('stroke', color).attr('stroke-width', 0.5);
  });
  drawAxes(row, col, x, y, true);
  drawFrame(row, col);
});

// 1D panels
marginals.forEach((curves, i) => {
  const x = xScale(i);
  const y = d3.scaleLinear().domain([0, 1]).range([gridTop + (i + 1) * ph, gridTop + i * ph]);
  const g = svg.append('g').attr('clip-path', clipFor(i, i));
  const line = d3.line().x(d => x(d[0])).y(d => y(d[1])).curve(d3.curveMonotoneX);
  curves.forEach((pts, si) => {
    g.append('path').attr('d', line(pts))
      .attr('fill', 'none').attr('stroke', seriesColors[si])
      .attr('stroke-width', 3.6).attr('stroke-linejoin', 'round');
  });
  drawAxes(i, i, x, y, false);
  drawFrame(i, i);
});

// axis titles
const labelParts = {
  Om: [{ t: '\u03A9' }, { t: 'm', sub: true }],
  s8: [{ t: '\u03C3', it: true }, { t: '8', sub: true }],
  mnu: [{ t: '\u03A3' }, { t: 'm', it: true }, { t: '\u03BD', it: true, sub: true }, { t: '[eV]', gap: true }],
  h: [{ t: 'h', it: true }],
  w: [{ t: 'w', it: true }]
};

function writeLabel(textSel, parts) {
  let shifted = false;
  parts.forEach(pt => {
    const ts = textSel.append('tspan').text(pt.t);
    if (pt.it) ts.attr('font-style', 'italic');
    if (pt.sub) {
      ts.attr('font-size', '15px').attr('dy', 5);
      shifted = true;
    } else if (shifted) {
      ts.attr('dy', -5);
      shifted = false;
    }
    if (pt.gap) ts.attr('dx', 5);
  });
}

params.forEach((p, i) => {
  const t = svg.append('text')
    .attr('x', gridLeft + (i + 0.5) * pw).attr('y', 1470)
    .attr('text-anchor', 'middle').attr('font-size', '21px');
  writeLabel(t, labelParts[p]);
  if (i > 0) {
    const cy = gridTop + (i + 0.5) * ph;
    const ty = svg.append('text')
      .attr('transform', `translate(37,${cy}) rotate(-90)`)
      .attr('text-anchor', 'middle').attr('font-size', '21px');
    writeLabel(ty, labelParts[p]);
  }
});

// legend
const legend = svg.append('g');
legend.append('rect')
  .attr('x', 537.5).attr('y', 12.5).attr('width', 410).attr('height', 190)
  .attr('rx', 4).attr('fill', '#fff').attr('stroke', '#cccccc').attr('stroke-width', 1.2);
const legY = d3.scaleBand().domain(seriesNames).range([15, 199]);
seriesNames.forEach((name, i) => {
  const cy = legY(name) + legY.bandwidth() / 2;
  legend.append('rect')
    .attr('x', 546).attr('y', cy - 9.5).attr('width', 52).attr('height', 19)
    .attr('fill', seriesColors[i]);
  legend.append('text')
    .attr('x', 617).attr('y', cy).attr('dy', '0.35em')
    .attr('font-size', '25.3px').text(name);
});
</script>
</body>
</html>
